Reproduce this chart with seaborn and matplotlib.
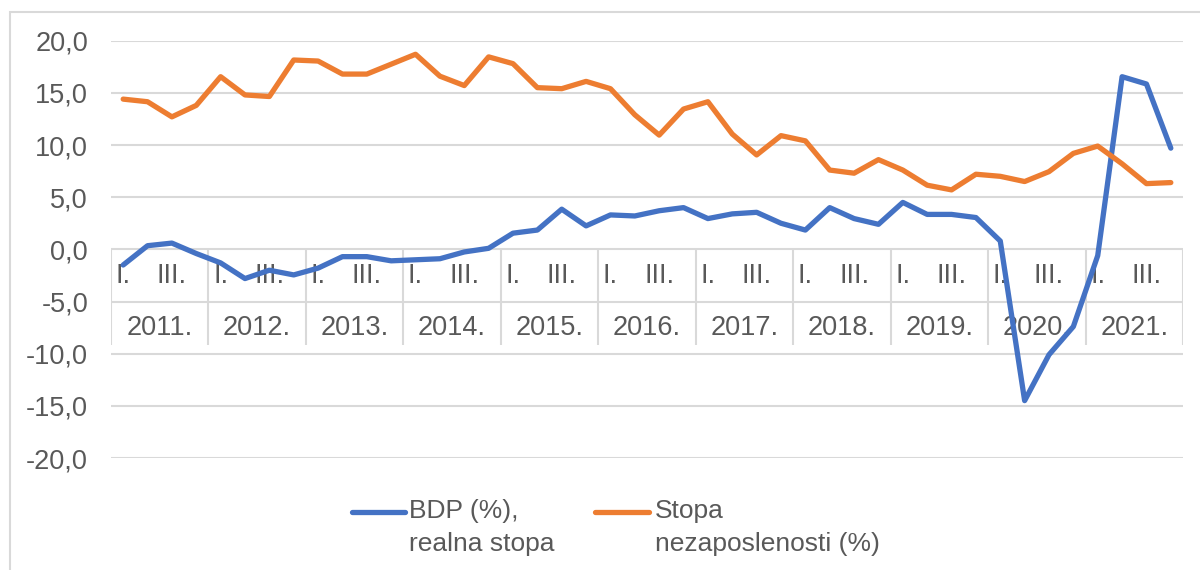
import seaborn as sns
import pandas as pd
import matplotlib.pyplot as plt
from matplotlib.lines import Line2D
from matplotlib.patches import Rectangle
from matplotlib.ticker import FuncFormatter

years = [2011, 2012, 2013, 2014, 2015, 2016, 2017, 2018, 2019, 2020, 2021]
quarter_labels = ["I.", "", "III.", ""]

bdp = [-1.5, 0.35, 0.6, -0.4, -1.3, -2.8, -2.0, -2.45, -1.8, -0.7, -0.7,
       -1.1, -1.0, -0.9, -0.25, 0.1, 1.55, 1.85, 3.85, 2.25, 3.3, 3.2,
       3.7, 4.0, 2.95, 3.4, 3.55, 2.5, 1.85, 4.0, 2.95, 2.4, 4.5, 3.35,
       3.35, 3.05, 0.8, -14.5, -10.1, -7.4, -0.6, 16.55, 15.85, 9.7]
nezaposlenost = [14.4, 14.15, 12.7, 13.8, 16.55, 14.8, 14.65, 18.15, 18.05,
                 16.8, 16.8, 17.75, 18.7, 16.6, 15.7, 18.45, 17.8, 15.5,
                 15.4, 16.1, 15.4, 12.9, 10.95, 13.45, 14.15, 11.05, 9.05,
                 10.9, 10.4, 7.6, 7.3, 8.6, 7.6, 6.15, 5.7, 7.2, 7.0, 6.5,
                 7.45, 9.2, 9.9, 8.2, 6.3, 6.4]

series_names = ["BDP (%),\nrealna stopa", "Stopa\nnezaposlenosti (%)"]
colors = ["#4472C4", "#ED7D31"]
grid_col = "#D9D9D9"
text_col = "#595959"

sns.set_theme(style="white")
plt.rcParams["font.family"] = ["Liberation Sans", "DejaVu Sans"]
fs = 19.5
fs_leg = 19

n = len(bdp)
df = pd.DataFrame({
    "q": list(range(n)) * 2,
    "value": bdp + nezaposlenost,
    "series": [series_names[0]] * n + [series_names[1]] * n,
})

fig = plt.figure(figsize=(12, 5.7), dpi=100)
ax = fig.add_axes([111 / 1200, 1 - 458 / 570, 1072 / 1200, 417.3 / 570])

# outer chart border (cut at right/bottom like the source)
fig.add_artist(Rectangle((10 / 1200, -0.1), 1.2, 1.1 - 12 / 570,
                         transform=fig.transFigure, fill=False,
                         edgecolor=grid_col, linewidth=1.5))

ax.set_ylim(-20, 20)
ax.set_xlim(-0.5, n - 0.5)
ax.set_yticks(range(-20, 25, 5))
ax.yaxis.set_major_formatter(FuncFormatter(lambda v, p: f"{v:.1f}".replace(".", ",")))
ax.tick_params(axis="y", length=0, pad=16.5, labelsize=fs, labelcolor=text_col)
ax.set_xticks([])
ax.grid(axis="y", color=grid_col, linewidth=1.5)
ax.set_axisbelow(True)
for s in ax.spines.values():
    s.set_visible(False)

# category table below zero line
for k in range(len(years) + 1):
    ax.vlines(4 * k - 0.5, -9.2, 0, color=grid_col, linewidth=1.5, zorder=1)
for k, yr in enumerate(years):
    for j, ql in enumerate(quarter_labels):
        if ql:
            ax.text(4 * k + j, -2.6, ql, ha="center", va="center",
                    fontsize=fs, color=text_col)
    ax.text(4 * k + 1.5, -7.55, f"{yr}.", ha="center", va="center",
            fontsize=fs, color=text_col)

sns.lineplot(data=df, x="q", y="value", hue="series", palette=colors,
             linewidth=3.8, legend=False, ax=ax, zorder=3,
             solid_capstyle="round", solid_joinstyle="round")
ax.set_xlabel("")
ax.set_ylabel("")

# legend
leg_x = [(352, 405, 409), (595, 649, 655)]
for (x0, x1, tx), name, c in zip(leg_x, series_names, colors):
    fig.add_artist(Line2D([x0 / 1200, x1 / 1200], [1 - 512 / 570] * 2,
                          transform=fig.transFigure, color=c, linewidth=3.8,
                          solid_capstyle="round"))
    fig.text(tx / 1200, 1 - 499 / 570, name, ha="left", va="top",
             fontsize=fs_leg, color=text_col, linespacing=1.45)

plt.savefig("out.png", dpi=100)
